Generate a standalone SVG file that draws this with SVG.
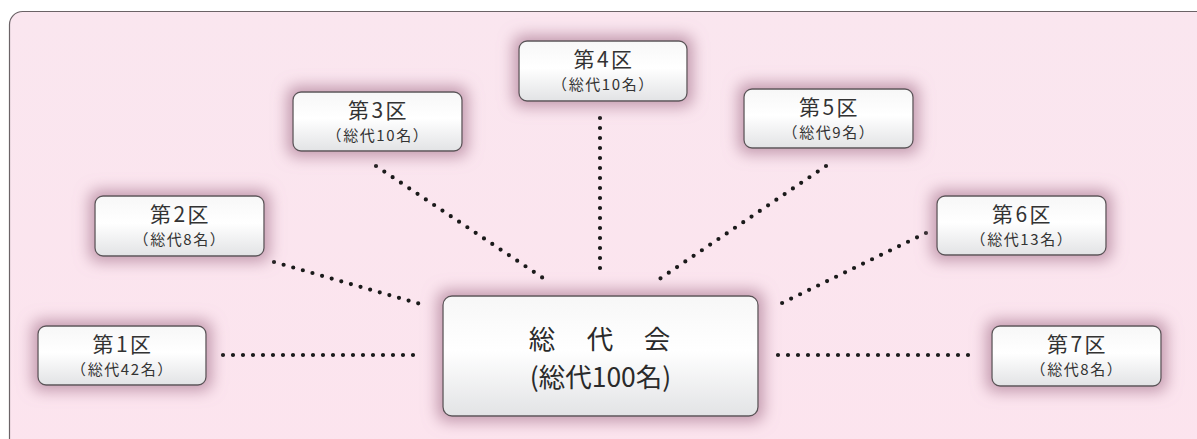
<svg xmlns="http://www.w3.org/2000/svg" width="1197" height="439" viewBox="0 0 1197 439">
<style>
.box{fill:url(#bg);stroke:#5a5558;stroke-width:1.3;filter:url(#glow)}
text{font-family:"Noto Sans CJK JP","Noto Sans",sans-serif;text-anchor:middle;text-spacing-trim:space-all}
.t1{font-size:21px;fill:#333;letter-spacing:2.5px}
.t2{font-size:15px;fill:#333;letter-spacing:1.6px}
.tm{font-size:26.5px;fill:#2a2a2a}
.dots{fill:none;stroke:#1a1a1a;stroke-width:4.2;stroke-linecap:round;stroke-dasharray:0 10}
</style>
<defs>
<linearGradient id="bg" x1="0" y1="0" x2="0" y2="1">
<stop offset="0" stop-color="#f7f7f7"/>
<stop offset="0.45" stop-color="#ffffff"/>
<stop offset="1" stop-color="#e2e3e5"/>
</linearGradient>
<linearGradient id="panel" x1="0" y1="0" x2="0" y2="1">
<stop offset="0" stop-color="#fae6ef"/>
<stop offset="1" stop-color="#fce4ee"/>
</linearGradient>
<filter id="glow" x="-30%" y="-50%" width="160%" height="200%">
<feMorphology in="SourceAlpha" operator="dilate" radius="5" result="d"/>
<feGaussianBlur in="d" stdDeviation="7.5" result="b"/>
<feFlood flood-color="#b88ca2" flood-opacity="0.85"/>
<feComposite in2="b" operator="in" result="s"/>
<feMerge><feMergeNode in="s"/><feMergeNode in="SourceGraphic"/></feMerge>
</filter>
</defs>
<rect x="9.5" y="11.5" width="1200" height="450" rx="13" fill="url(#panel)" stroke="#6b6367" stroke-width="1.2"/>
<g id="connectors">
<path class="dots" d="M223 355 L423 355"/>
<path class="dots" d="M778 355 L978 355"/>
<path class="dots" d="M274 262 L424 305"/>
<path class="dots" d="M376 166 L546 280"/>
<path class="dots" d="M600 118 L600 278"/>
<path class="dots" d="M826 166 L658 280"/>
<path class="dots" d="M926 233 L778 305"/>
</g>
<g id="node-center">
<rect class="box" x="443" y="296" width="315" height="120" rx="9"/>
<text class="tm" y="349"><tspan x="542">総</tspan><tspan x="600">代</tspan><tspan x="657">会</tspan></text>
<text class="tm" x="600.5" y="387">(総代100名)</text>
</g>
<g id="node-1">
<rect class="box" x="38" y="326" width="168" height="59" rx="8"/>
<text class="t1" x="123" y="352">第1区</text>
<text class="t2" x="122.5" y="375">（総代42名）</text>
</g>
<g id="node-2">
<rect class="box" x="95" y="196" width="169" height="60" rx="8"/>
<text class="t1" x="180.5" y="222">第2区</text>
<text class="t2" x="180" y="245">（総代8名）</text>
</g>
<g id="node-3">
<rect class="box" x="293" y="92" width="169" height="59" rx="8"/>
<text class="t1" x="378.5" y="118">第3区</text>
<text class="t2" x="378" y="141">（総代10名）</text>
</g>
<g id="node-4">
<rect class="box" x="519" y="41" width="168" height="60" rx="8"/>
<text class="t1" x="604" y="67">第4区</text>
<text class="t2" x="603.5" y="90">（総代10名）</text>
</g>
<g id="node-5">
<rect class="box" x="744" y="89" width="169" height="59" rx="8"/>
<text class="t1" x="829.5" y="115">第5区</text>
<text class="t2" x="829" y="138">（総代9名）</text>
</g>
<g id="node-6">
<rect class="box" x="937" y="196" width="169" height="59" rx="8"/>
<text class="t1" x="1022.5" y="222">第6区</text>
<text class="t2" x="1022" y="245">（総代13名）</text>
</g>
<g id="node-7">
<rect class="box" x="992" y="326" width="169" height="60" rx="8"/>
<text class="t1" x="1077.5" y="352">第7区</text>
<text class="t2" x="1077" y="375">（総代8名）</text>
</g>
</svg>
